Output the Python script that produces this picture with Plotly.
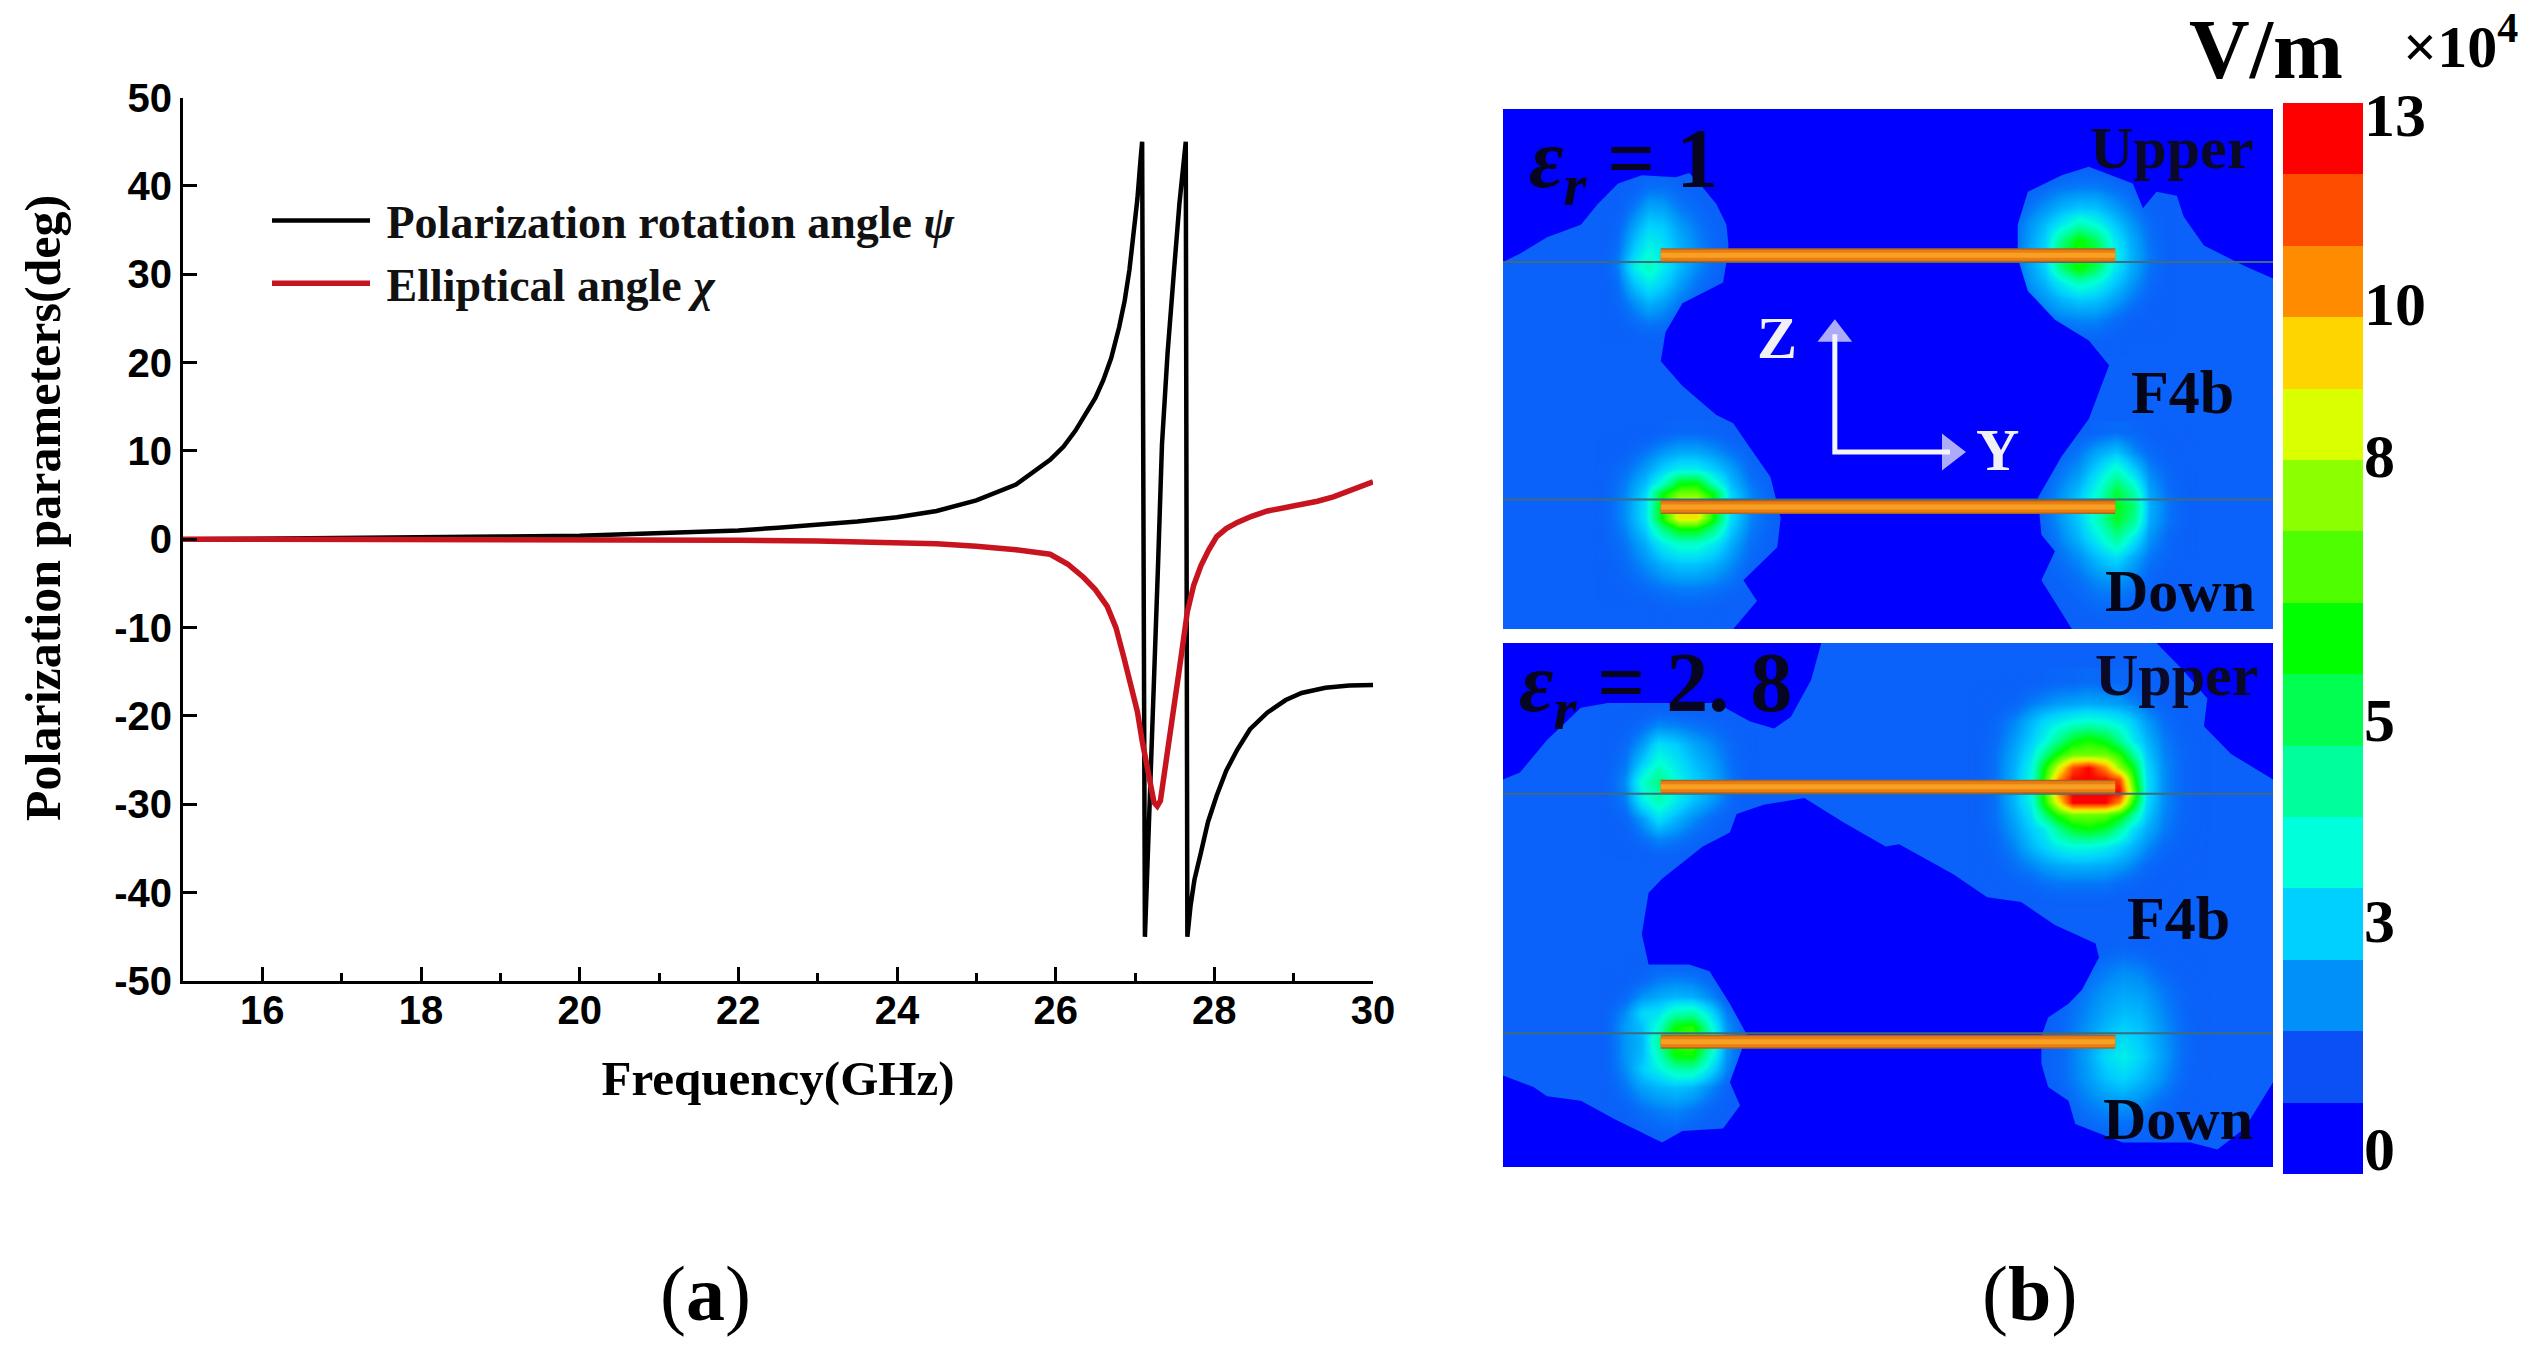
import plotly.graph_objects as go

W, H = 2541, 1346
SERIF = "Liberation Serif"
SANS = "Liberation Sans"

# ---------- panel (a) data ----------
freq_psi = [15, 16, 17, 18, 19, 20, 21, 22, 22.5, 23, 23.5, 24, 24.5, 25, 25.5, 25.93, 26.1, 26.25, 26.4, 26.5, 26.6,
            26.7, 26.8, 26.87, 26.93, 26.98, 27.03, 27.07, 27.09, 27.125, 27.18, 27.24, 27.29, 27.34, 27.41, 27.49,
            27.56, 27.64, 27.66, 27.70, 27.75, 27.83, 27.92, 28.03, 28.15, 28.29, 28.45, 28.67, 28.9, 29.1, 29.4,
            29.7, 30]
psi = [0, 0.05, 0.15, 0.2, 0.3, 0.4, 0.7, 1.0, 1.3, 1.6, 2.0, 2.5, 3.2, 4.4, 6.2, 9, 10.5, 12.3, 14.5, 16, 18,
       20.5, 24, 27, 30.5, 34, 38.5, 43, 45, -45, -31, -18.6, -3, 10.7, 21, 30.2,
       38, 45, -45, -41.5, -38.5, -35.5, -32, -29, -26.2, -23.8, -21.5, -19.6, -18.2, -17.4, -16.8,
       -16.55, -16.5]
freq_chi = [15, 17, 19, 20, 21, 22, 23, 24, 24.5, 25, 25.5, 25.93, 26.15, 26.35, 26.5, 26.65, 26.76, 26.86, 26.95,
            27.03, 27.09, 27.15, 27.2, 27.24, 27.28, 27.32, 27.37, 27.42, 27.49, 27.55, 27.6, 27.66, 27.74, 27.83,
            27.93, 28.03, 28.15, 28.29, 28.47, 28.67, 28.9, 29.1, 29.3, 29.5, 29.75, 30]
chi = [0, 0, 0, 0, 0, -0.1, -0.2, -0.3, -0.5, -0.8, -1.2, -1.7, -2.8, -4.3, -5.7, -7.6, -10, -13.4, -16.5,
       -19.5, -22.8, -25.7, -28.5, -29.8, -30.2, -29.6, -26.5, -23, -19, -15.3, -11.8, -8.2, -5.2, -3,
       -1.2, 0.3, 1.2, 1.9, 2.6, 3.2, 3.6, 3.9, 4.3, 4.8, 5.6, 6.5]
y_ticks = [-50, -40, -30, -20, -10, 0, 10, 20, 30, 40, 50]
y_labels = ["-50", "-40", "-30", "-20", "-10", "0", "10", "20", "30", "40", "50"]

# ---------- colour bar ----------
band_colors = ["#0000FF", "#0A50F5", "#0090F8", "#00D0FF", "#00FFDB", "#00FF9C", "#00FF50", "#00FF00",
               "#4DFF00", "#8CFF00", "#D9FF00", "#FFD500", "#FF8C00", "#FF4D00", "#FF0000"]
band_levels = list(range(1, 16))
cb_tick_pos = [14.84, 12.19, 10.07, 6.37, 3.55, 0.36]
cb_tick_txt = ["13", "10", "8", "5", "3", "0"]

# ---------- top field map (eps=1) ----------
top_dark_x = [35, 1172, 1172, 1130, 1070, 1040, 1030, 1000, 980, 965, 900, 860, 810, 795, 795, 810, 850, 900, 930, 900,
              860, 825, 830, 850, 830, 875, 375, 410, 390, 440, 445, 430, 400, 375, 350, 300, 268, 275, 300, 360, 365,
              368, 365, 350, 330, 310, 290, 240, 205, 175, 150, 100, 60, 35]
top_dark_y = [260, 260, 670, 640, 590, 520, 470, 460, 500, 440, 400, 420, 460, 540, 620, 700, 770, 820, 880, 1010,
              1100, 1200, 1290, 1330, 1400, 1518, 1518, 1450, 1400, 1320, 1250, 1150, 1080, 1020, 1000, 930, 870, 800,
              730, 680, 630, 590, 540, 490, 450, 415, 425, 420, 440, 490, 540, 570, 610, 630]
h1_x = [175, 205, 230, 250, 270, 295, 320, 345, 375]
h1_y = [400, 450, 500, 550, 600, 640, 680, 730, 780, 830]
h1_z = [[2, 2, 2.1, 2.2, 2.2, 2.1, 2, 2, 2],
        [2, 2.1, 2.3, 2.6, 2.6, 2.4, 2.2, 2.1, 2],
        [2, 2.2, 2.8, 3.4, 3.3, 2.8, 2.5, 2.2, 2],
        [2, 2.4, 3.4, 4.2, 4, 3.3, 2.8, 2.4, 2],
        [2, 2.6, 4.0, 4.9, 4.4, 3.6, 3.0, 2.5, 2],
        [2, 2.8, 4.7, 5.5, 4.6, 3.7, 3.0, 2.5, 2],
        [2, 2.6, 3.9, 4.6, 4.1, 3.3, 2.7, 2.3, 2],
        [2, 2.4, 3.0, 3.5, 3.2, 2.7, 2.4, 2.1, 2],
        [2, 2.2, 2.5, 2.7, 2.6, 2.3, 2.1, 2, 2],
        [2, 2, 2, 2.1, 2.1, 2, 2, 2, 2]]
h2_x = [770, 805, 835, 860, 885, 910, 935, 960, 990, 1030]
h2_y = [400, 450, 500, 540, 575, 610, 645, 680, 720, 770, 830]
h2_z = [[2, 2, 2, 2.1, 2.2, 2.2, 2.1, 2, 2, 2],
        [2, 2.2, 2.5, 2.7, 2.8, 2.8, 2.6, 2.4, 2.1, 2],
        [2, 2.6, 3.1, 3.6, 3.9, 3.8, 3.3, 2.8, 2.3, 2],
        [2, 2.9, 3.7, 4.6, 5.6, 5.0, 4.0, 3.2, 2.5, 2],
        [2, 3.0, 4.0, 6.2, 8.0, 6.8, 4.6, 3.5, 2.6, 2],
        [2, 3.1, 4.2, 7.2, 8.6, 7.6, 5.0, 3.6, 2.7, 2],
        [2, 3.0, 4.0, 6.4, 8.1, 6.8, 4.6, 3.5, 2.6, 2],
        [2, 2.9, 3.6, 4.6, 5.5, 4.9, 4.0, 3.2, 2.5, 2],
        [2, 2.6, 3.1, 3.6, 3.9, 3.8, 3.3, 2.8, 2.3, 2],
        [2, 2.3, 2.6, 2.8, 2.9, 2.9, 2.6, 2.3, 2.1, 2],
        [2, 2, 2, 2.1, 2.2, 2.2, 2.1, 2, 2, 2]]
h3_x = [170, 215, 245, 270, 295, 320, 345, 370, 400, 450]
h3_y = [1040, 1090, 1130, 1165, 1190, 1220, 1250, 1275, 1310, 1360, 1420, 1480]
h3_z = [[2, 2, 2.1, 2.3, 2.4, 2.4, 2.3, 2.1, 2, 2],
        [2, 2.3, 2.7, 3.1, 3.4, 3.4, 3.1, 2.7, 2.3, 2],
        [2, 2.6, 3.2, 4.0, 4.6, 4.6, 4.0, 3.3, 2.5, 2],
        [2, 2.8, 3.7, 5.2, 7.8, 8.0, 5.4, 3.7, 2.7, 2],
        [2, 2.9, 4.1, 7.8, 9.5, 9.5, 7.8, 4.1, 2.9, 2],
        [2, 3.0, 4.3, 8.2, 11.5, 12, 8.2, 4.3, 2.9, 2],
        [2, 3.0, 4.3, 8.2, 11.5, 11.5, 8.2, 4.3, 2.9, 2],
        [2, 2.9, 4.0, 6.4, 8.2, 8.2, 6.4, 4.0, 2.8, 2],
        [2, 2.7, 3.5, 4.6, 5.3, 5.3, 4.6, 3.5, 2.6, 2],
        [2, 2.5, 3.0, 3.5, 3.8, 3.8, 3.5, 3.0, 2.4, 2],
        [2, 2.3, 2.5, 2.7, 2.8, 2.8, 2.7, 2.5, 2.2, 2],
        [2, 2, 2, 2.1, 2.2, 2.2, 2.1, 2, 2, 2]]
h4_x = [810, 850, 885, 915, 940, 965, 990, 1020, 1060]
h4_y = [1040, 1090, 1145, 1185, 1220, 1255, 1295, 1345, 1400, 1460, 1510]
h4_z = [[2, 2.1, 2.2, 2.4, 2.5, 2.4, 2.2, 2.1, 2],
        [2, 2.3, 2.7, 3.4, 3.8, 3.0, 2.5, 2.2, 2],
        [2, 2.6, 3.2, 4.5, 5.8, 4.4, 3.0, 2.4, 2],
        [2, 2.8, 3.7, 5.2, 7.3, 5.8, 3.3, 2.5, 2],
        [2, 3.0, 4.0, 5.8, 7.8, 6.6, 3.5, 2.6, 2],
        [2, 2.9, 3.9, 5.6, 7.5, 6.2, 3.4, 2.6, 2],
        [2, 2.7, 3.6, 4.8, 6.2, 4.6, 3.1, 2.4, 2],
        [2, 2.5, 3.0, 3.8, 4.3, 3.4, 2.7, 2.3, 2],
        [2, 2.3, 2.6, 3.0, 3.1, 2.8, 2.4, 2.1, 2],
        [2, 2.1, 2.3, 2.5, 2.5, 2.4, 2.2, 2, 2],
        [2, 2, 2, 2.1, 2.1, 2.1, 2, 2, 2]]

# ---------- bottom field map (eps=2.8) ----------
bot_dark_a_x = [35, 505, 490, 460, 435, 400, 350, 190, 150, 100, 60, 35]
bot_dark_a_y = [50, 50, 130, 210, 235, 220, 180, 180, 190, 260, 330, 345]
bot_dark_b_x = [1000, 1040, 1075, 1070, 1110, 1172, 1172]
bot_dark_b_y = [50, 110, 170, 230, 290, 345, 50]
bot_dark_c_x = [480, 540, 600, 620, 700, 750, 800, 850, 910, 915, 890, 870, 840, 830, 830, 840, 870, 880, 950, 1050,
                1090, 1130, 1172, 1172, 35, 35, 80, 100, 150, 200, 270, 300, 360, 385, 370, 390, 400, 370, 340, 310,
                250, 240, 250, 270, 330, 370, 380, 420]
bot_dark_c_y = [385, 440, 490, 485, 550, 600, 610, 660, 700, 730, 800, 830, 860, 900, 960, 1010, 1040, 1090, 1130, 1130,
                1145, 1100, 1000, 1183, 1183, 985, 1010, 1030, 1040, 1080, 1130, 1105, 1100, 1050, 1000, 920, 910, 830,
                760, 745, 745, 680, 590, 560, 490, 460, 420, 400]
h5_x = [175, 215, 240, 265, 290, 315, 345, 375, 410]
h5_y = [190, 230, 270, 310, 350, 390, 430, 470, 520]
h5_z = [[2, 2, 2.1, 2.2, 2.2, 2.1, 2.1, 2, 2],
        [2, 2.2, 2.6, 3.0, 2.9, 2.7, 2.5, 2.2, 2],
        [2, 2.5, 3.2, 4.3, 4.0, 3.4, 2.9, 2.4, 2],
        [2, 2.7, 4.0, 5.2, 4.5, 3.8, 3.2, 2.5, 2],
        [2, 3.0, 5.2, 6.4, 5.0, 4.1, 3.4, 2.6, 2],
        [2, 2.8, 4.6, 5.6, 4.6, 3.8, 3.1, 2.4, 2],
        [2, 2.4, 3.2, 4.3, 3.6, 3.0, 2.5, 2.2, 2],
        [2, 2.2, 2.6, 3.0, 2.8, 2.5, 2.2, 2.1, 2],
        [2, 2, 2, 2.1, 2.1, 2, 2, 2, 2]]
h6_x = [720, 760, 790, 815, 835, 855, 875, 900, 925, 945, 965, 985, 1010, 1040, 1080]
h6_y = [130, 180, 220, 260, 290, 320, 345, 370, 395, 420, 450, 490, 530, 570, 620]
h6_z = [[2, 2, 2.1, 2.2, 2.3, 2.4, 2.4, 2.5, 2.4, 2.4, 2.3, 2.2, 2.1, 2, 2],
        [2, 2.2, 2.4, 2.8, 3.0, 3.2, 3.3, 3.4, 3.3, 3.2, 2.9, 2.6, 2.3, 2.1, 2],
        [2, 2.4, 2.9, 3.6, 4.2, 4.6, 5, 5.2, 5, 4.6, 4, 3.2, 2.6, 2.2, 2],
        [2, 2.5, 3.2, 4.0, 4.8, 6.2, 7.6, 8.3, 7.6, 6.2, 4.6, 3.6, 2.8, 2.3, 2],
        [2, 2.6, 3.4, 4.4, 6.3, 8.3, 9.5, 9.5, 9.5, 8.5, 6.2, 3.9, 2.9, 2.4, 2],
        [2, 2.6, 3.5, 4.8, 8, 11, 14, 15, 13, 10, 8, 4.2, 3.0, 2.4, 2],
        [2, 2.6, 3.6, 5.0, 8.5, 13, 15, 15, 15, 14, 9, 4.4, 3.0, 2.4, 2],
        [2, 2.6, 3.6, 5.0, 8.5, 13, 15, 15, 15, 15, 10, 4.4, 3.0, 2.4, 2],
        [2, 2.6, 3.6, 4.8, 8.2, 11.5, 15, 15, 15, 13, 8.5, 4.2, 3.0, 2.4, 2],
        [2, 2.6, 3.4, 4.4, 6.5, 8.5, 9.5, 9.5, 9.3, 8.3, 6.2, 3.9, 2.9, 2.4, 2],
        [2, 2.5, 3.2, 4.0, 4.6, 6.2, 7.5, 8, 7.4, 6, 4.4, 3.5, 2.8, 2.3, 2],
        [2, 2.4, 2.9, 3.6, 4.1, 4.6, 4.9, 4.9, 4.6, 4.1, 3.6, 3.0, 2.5, 2.2, 2],
        [2, 2.2, 2.6, 2.9, 3.2, 3.4, 3.5, 3.5, 3.4, 3.2, 2.9, 2.5, 2.2, 2.1, 2],
        [2, 2.1, 2.3, 2.4, 2.6, 2.7, 2.7, 2.7, 2.7, 2.5, 2.4, 2.2, 2.1, 2, 2],
        [2, 2, 2, 2, 2.1, 2.1, 2.1, 2.1, 2.1, 2.1, 2, 2, 2, 2, 2]]
h7_x = [175, 215, 240, 265, 290, 315, 340, 365, 400]
h7_y = [740, 780, 815, 850, 880, 910, 940, 970, 1010, 1060, 1120]
h7_z = [[2, 2, 2.1, 2.2, 2.2, 2.2, 2.1, 2, 2],
        [2, 2.2, 2.5, 2.8, 2.9, 2.8, 2.5, 2.1, 2],
        [2, 2.5, 3.1, 3.4, 3.6, 3.5, 3.0, 2.3, 2],
        [2, 3.0, 4.2, 4.4, 5.6, 5.8, 4.4, 2.8, 2],
        [2, 3.2, 3.8, 5.2, 8.0, 8.5, 5.4, 3.1, 2],
        [2, 3.1, 3.6, 6.0, 8.5, 8.8, 6.3, 3.2, 2],
        [2, 3.1, 3.7, 5.4, 8.0, 8.2, 5.4, 3.1, 2],
        [2, 3.0, 4.0, 4.7, 5.7, 5.8, 4.4, 2.9, 2],
        [2, 2.7, 3.3, 3.6, 3.8, 3.6, 3.0, 2.4, 2],
        [2, 2.3, 2.6, 2.8, 2.9, 2.7, 2.4, 2.1, 2],
        [2, 2, 2.1, 2.2, 2.3, 2.2, 2, 2, 2]]
h8_x = [820, 860, 895, 925, 950, 975, 1005, 1040, 1080]
h8_y = [700, 750, 800, 850, 900, 945, 990, 1040, 1090, 1140]
h8_z = [[2, 2, 2.1, 2.2, 2.3, 2.2, 2.1, 2, 2],
        [2, 2.1, 2.4, 2.7, 2.9, 2.8, 2.4, 2.1, 2],
        [2, 2.3, 2.7, 3.1, 3.3, 3.2, 2.8, 2.3, 2],
        [2, 2.4, 2.9, 3.4, 3.7, 3.6, 3.0, 2.4, 2],
        [2, 2.5, 3.1, 3.8, 4.2, 3.9, 3.2, 2.5, 2],
        [2, 2.5, 3.2, 4.2, 4.7, 4.1, 3.3, 2.5, 2],
        [2, 2.5, 3.1, 3.8, 4.1, 3.7, 3.1, 2.4, 2],
        [2, 2.3, 2.8, 3.1, 3.2, 3.0, 2.6, 2.2, 2],
        [2, 2.1, 2.4, 2.6, 2.6, 2.5, 2.3, 2.1, 2],
        [2, 2, 2, 2.1, 2.1, 2.1, 2, 2, 2]]

patch_x = [268, 939]
top_patch_y = [614, 1223]
top_sub_y = [630, 1205]
bot_patch_y = [361, 912]
bot_sub_y = [376, 894]
map_x_range = [35, 1172]
axis_arrow_x = [525, 525, 695]
axis_arrow_y = [805, 1090, 1090]


def hexrgb(c):
    return tuple(int(c[i:i + 2], 16) for i in (1, 3, 5))


# hotspot colour scale: z from 2 (transparent, level-1 blue) to 15 (red)
hot_scale = [[0.0, "rgba(10,90,248,0)"]]
for k in range(3, 16):
    r, g, b = hexrgb(band_colors[k - 1])
    hot_scale.append([(k - 2) / 13, f"rgba({r},{g},{b},1)"])

bar_scale = [[(i) / 14, c] for i, c in enumerate(band_colors)]

fig = go.Figure()

# panel (a)
fig.add_trace(go.Scatter(x=freq_psi, y=psi, mode="lines", name="\u00a0Polarization rotation angle <i>ψ</i>",
                         legendgroup="a", line=dict(color="#000000", width=4.5), xaxis="x", yaxis="y"))
fig.add_trace(go.Scatter(x=freq_chi, y=chi, mode="lines", name="\u00a0Elliptical angle <i>χ</i>",
                         legendgroup="b", line=dict(color="#C8141E", width=5.5), xaxis="x", yaxis="y"))


def hot(x, y, z, xa, ya):
    fig.add_trace(go.Heatmap(x=x, y=y, z=z, zmin=2, zmax=15, colorscale=hot_scale, zsmooth="best",
                             showscale=False, hoverinfo="skip", xaxis=xa, yaxis=ya))


def dark(x, y, xa, ya):
    fig.add_trace(go.Scatter(x=x, y=y, mode="lines", fill="toself", fillcolor="#0000FF", line=dict(width=0),
                             showlegend=False, hoverinfo="skip", xaxis=xa, yaxis=ya))


def conductor(y, xa, ya):
    for w, c in ((14, "#A9642A"), (11, "#EC7E10"), (5, "#F6A024")):
        fig.add_trace(go.Scatter(x=patch_x, y=[y, y], mode="lines", line=dict(color=c, width=w),
                                 showlegend=False, hoverinfo="skip", xaxis=xa, yaxis=ya))


def substrate(y, xa, ya):
    fig.add_trace(go.Scatter(x=map_x_range, y=[y, y], mode="lines", line=dict(color="#3D6C7E", width=2),
                             showlegend=False, hoverinfo="skip", xaxis=xa, yaxis=ya))


for d in ((h1_x, h1_y, h1_z), (h2_x, h2_y, h2_z), (h3_x, h3_y, h3_z), (h4_x, h4_y, h4_z)):
    hot(*d, "x2", "y2")
dark(top_dark_x, top_dark_y, "x2", "y2")
for y in top_sub_y:
    substrate(y, "x2", "y2")
for y in top_patch_y:
    conductor(y, "x2", "y2")

# white Z / Y axes
fig.add_trace(go.Scatter(x=axis_arrow_x, y=axis_arrow_y, mode="lines+markers",
                         line=dict(color="#F4F4F8", width=5),
                         marker=dict(symbol=["triangle-up", "circle", "triangle-right"], size=[30, 1, 32],
                                     color="#F4F4F8", line=dict(width=0)),
                         showlegend=False, hoverinfo="skip", xaxis="x2", yaxis="y2"))

for d in ((h5_x, h5_y, h5_z), (h6_x, h6_y, h6_z), (h7_x, h7_y, h7_z), (h8_x, h8_y, h8_z)):
    hot(*d, "x3", "y3")
dark(bot_dark_a_x, bot_dark_a_y, "x3", "y3")
dark(bot_dark_b_x, bot_dark_b_y, "x3", "y3")
dark(bot_dark_c_x, bot_dark_c_y, "x3", "y3")
for y in bot_sub_y:
    substrate(y, "x3", "y3")
for y in bot_patch_y:
    conductor(y, "x3", "y3")

# colour bar
fig.add_trace(go.Heatmap(x=[0], y=[v - 0.5 for v in band_levels], z=[[v] for v in band_levels], zmin=1, zmax=15,
                         colorscale=bar_scale, showscale=False, hoverinfo="skip", xaxis="x4", yaxis="y4"))


def dx(a, b):
    return [a / W, b / W]


def dy(top, bottom):
    return [1 - bottom / H, 1 - top / H]


hidden = dict(visible=False, showgrid=False, zeroline=False)
ann = []


def text(t, x, y, size, color="#000000", xref="paper", yref="paper", xanchor="center", angle=0, bold=True):
    if xref == "paper":
        x = x / W
        y = 1 - y / H
    ann.append(dict(text=t, x=x, y=y, xref=xref, yref=yref, xanchor=xanchor, yanchor="middle", showarrow=False,
                    textangle=angle,
                    font=dict(family=SERIF, size=size, color=color, weight="bold" if bold else "normal")))


text("Polarization parameters(deg)", 43, 508, 50, angle=-90)
text("(<b>a</b>)", 705, 1293, 78, bold=False)
text("(<b>b</b>)", 2029, 1293, 78, bold=False)
text("V/m", 2266, 50, 84)
text("×10<sup>4</sup>", 2460, 42, 60)

text("<i>ε<sub>r</sub></i> = 1", 70, 395, 84, "#060620", "x2", "y2", "left")
text("Upper", 1022, 355, 60, "#0A0A28", "x2", "y2")
text("F4b", 1038, 945, 62, "#050518", "x2", "y2")
text("Down", 1035, 1425, 60, "#050518", "x2", "y2")
text("Z", 440, 815, 60, "#F0F0F5", "x2", "y2")
text("Y", 765, 1085, 60, "#F0F0F5", "x2", "y2")

text("<i>ε<sub>r</sub></i> = 2. 8", 55, 150, 84, "#060620", "x3", "y3", "left")
text("Upper", 1030, 120, 60, "#0A0A28", "x3", "y3")
text("F4b", 1033, 645, 62, "#050518", "x3", "y3")
text("Down", 1032, 1080, 60, "#050518", "x3", "y3")

fig.update_layout(
    width=W, height=H, margin=dict(l=0, r=0, t=0, b=0, pad=0, autoexpand=False), autosize=False,
    paper_bgcolor="#FFFFFF", plot_bgcolor="rgba(0,0,0,0)",
    legend=dict(x=267 / W, y=1 - 184 / H, xanchor="left", yanchor="top", bgcolor="rgba(0,0,0,0)",
                itemwidth=98, tracegroupgap=0,
                font=dict(family=SERIF, size=46, color="#111111", weight="bold")),
    xaxis=dict(domain=dx(183, 1373), range=[15, 30], tick0=16, dtick=2, ticks="inside", ticklen=14, tickwidth=3,
               tickcolor="#000", showline=True, linecolor="#000", linewidth=3, showgrid=False, zeroline=False,
               ticklabelstandoff=-8,
               tickfont=dict(family=SANS, size=40, color="#000", weight="bold"),
               title=dict(text="Frequency(GHz)", standoff=30,
                          font=dict(family=SERIF, size=49, color="#000", weight="bold")),
               minor=dict(tick0=15, dtick=1, ticks="inside", ticklen=8, tickwidth=3, tickcolor="#000", showgrid=False),
               anchor="y"),
    yaxis=dict(domain=dy(97.5, 981), range=[-50, 50], tickmode="array", tickvals=y_ticks, ticktext=y_labels,
               ticks="inside", ticklen=14, tickwidth=3,
               tickcolor="#000", showline=True, linecolor="#000", linewidth=3, showgrid=False, zeroline=False,
               tickfont=dict(family=SANS, size=40, color="#000", weight="bold"), anchor="x"),
    xaxis2=dict(domain=dx(1503, 2273), range=map_x_range, anchor="y2", **hidden),
    yaxis2=dict(domain=dy(109, 629), range=[1518, 260], anchor="x2", **hidden),
    xaxis3=dict(domain=dx(1503, 2273), range=map_x_range, anchor="y3", **hidden),
    yaxis3=dict(domain=dy(643, 1167), range=[1183, 50], anchor="x3", **hidden),
    xaxis4=dict(domain=dx(2283, 2363), range=[-0.5, 0.5], anchor="y4", **hidden),
    yaxis4=dict(domain=dy(103, 1174), range=[0, 15], anchor="x4", side="right", showgrid=False, zeroline=False,
                showline=False, ticks="", tickmode="array", tickvals=cb_tick_pos, ticktext=cb_tick_txt,
                tickfont=dict(family=SERIF, size=62, color="#000", weight="bold")),
    shapes=[
        dict(type="rect", xref="x2", yref="y2", x0=35, x1=1172, y0=260, y1=1518, layer="below",
             fillcolor="#0B62FA", line=dict(width=0)),
        dict(type="rect", xref="x3", yref="y3", x0=35, x1=1172, y0=50, y1=1183, layer="below",
             fillcolor="#0B62FA", line=dict(width=0)),
    ],
    annotations=ann,
    showlegend=True,
)

fig.write_html("out.html", post_script="document.body.style.margin='0';", config={"displayModeBar": False})
